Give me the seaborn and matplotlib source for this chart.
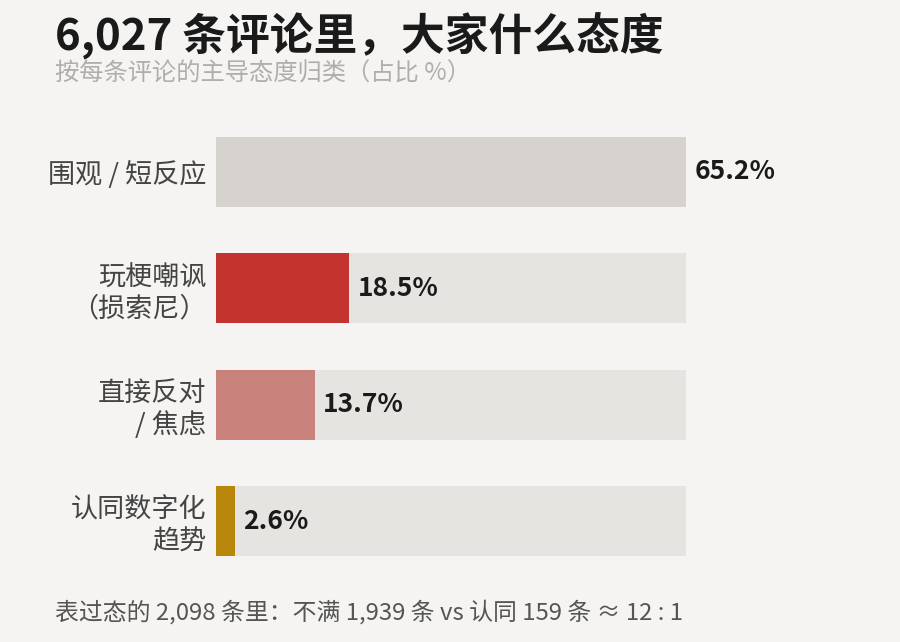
import matplotlib
matplotlib.use("Agg")
import matplotlib.pyplot as plt
import seaborn as sns
import pandas as pd

categories = ["围观 / 短反应", "玩梗嘲讽\n（损索尼）", "直接反对\n/ 焦虑", "认同数字化\n趋势"]
shares = [65.2, 18.5, 13.7, 2.6]
bar_colors = ["#d6d3ce", "#c3342f", "#c9827b", "#b8860b"]
track_max = 65.2

title = "6,027 条评论里，大家什么态度"
subtitle = "按每条评论的主导态度归类（占比 %）"
footer = "表过态的 2,098 条里：不满 1,939 条 vs 认同 159 条 ≈ 12 : 1"

sns.set_theme(style="white")
plt.rcParams["font.family"] = ["Noto Sans CJK SC", "DejaVu Sans"]

bg = "#f5f4f2"
fig = plt.figure(figsize=(9, 6.42), dpi=100, facecolor=bg)
ax = fig.add_axes([0.24, 0.134, 0.522, 0.653])
ax.set_facecolor(bg)

df = pd.DataFrame({"cat": categories, "share": shares, "track": [track_max] * len(shares)})

# grey track behind every bar, then the share on top
sns.barplot(data=df, y="cat", x="track", color="#e6e4e0", saturation=1, width=0.6,
            orient="h", linewidth=0, ax=ax)
sns.barplot(data=df, y="cat", x="share", hue="cat", palette=bar_colors, saturation=1,
            width=0.6, orient="h", linewidth=0, legend=False, ax=ax)

for i, v in enumerate(shares):
    ax.annotate(f"{v}%", xy=(v, i), xytext=(6, 0), textcoords="offset points",
                ha="left", va="center", fontsize=19, fontweight="bold", color="#1a1a1a")

ax.set_xlim(0, track_max)
ax.set_ylim(3.3, -0.3)
ax.set_xlabel("")
ax.set_ylabel("")
ax.set_xticks([])
ax.tick_params(axis="y", length=0, pad=7)
ax.set_yticklabels(categories, fontsize=19.5, color="#444444", ha="right", linespacing=1.2)
sns.despine(ax=ax, left=True, bottom=True)

fig.text(0.061, 0.943, title, fontsize=31.5, fontweight="black", color="#1a1a1a", va="center")
fig.text(0.061, 0.885, subtitle, fontsize=17.5, color="#b0aeab", va="center")
fig.text(0.061, 0.046, footer, fontsize=17.2, color="#555555", va="center")

fig.savefig("out.png", dpi=100, facecolor=bg)
